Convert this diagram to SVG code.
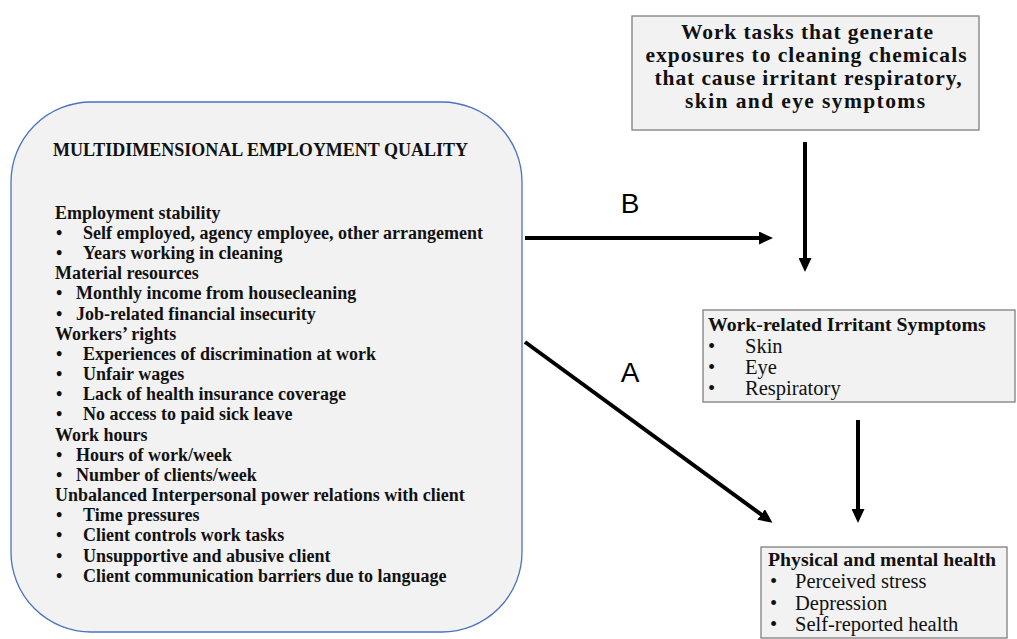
<svg xmlns="http://www.w3.org/2000/svg" width="1017" height="639" viewBox="0 0 1017 639">
<defs>
<marker id="ah" markerUnits="userSpaceOnUse" markerWidth="14" markerHeight="13" viewBox="0 0 14 13" refX="6" refY="6.5" orient="auto">
<path d="M0,0 L14,6.5 L0,13 z" fill="#000"/>
</marker>
<style>
.box{fill:#f2f2f2;stroke:#7f7f7f;stroke-width:1.3}
.big{fill:#f2f2f2;stroke:#4a72c0;stroke-width:1.3}
.lt{font-family:"Liberation Serif","DejaVu Serif",serif;font-weight:bold;font-size:18px;fill:#111}
.tt{font-family:"Liberation Serif","DejaVu Serif",serif;font-weight:bold;font-size:21.5px;fill:#111;text-anchor:middle}
.hd{font-family:"Liberation Serif","DejaVu Serif",serif;font-weight:bold;font-size:19.8px;fill:#111}
.it{font-family:"Liberation Serif","DejaVu Serif",serif;font-size:20.5px;fill:#111}
.lab{font-family:"Liberation Sans","Open Sans",sans-serif;font-size:28px;fill:#000;text-anchor:middle}
.con{stroke:#000;stroke-width:4;fill:none;marker-end:url(#ah)}
</style>
</defs>
<g id="employment-quality">
<rect class="big" x="11" y="102" width="511" height="530" rx="80" ry="80"/>
<text class="lt" x="53" y="156" font-size="16">MULTIDIMENSIONAL EMPLOYMENT QUALITY</text>
<text class="lt" x="55" y="219">Employment stability</text>
<text class="lt" x="56" y="239">•</text><text class="lt" x="83" y="239">Self employed, agency employee, other arrangement</text>
<text class="lt" x="56" y="259">•</text><text class="lt" x="83" y="259">Years working in cleaning</text>
<text class="lt" x="55" y="279">Material resources</text>
<text class="lt" x="56" y="299">•</text><text class="lt" x="76" y="299">Monthly income from housecleaning</text>
<text class="lt" x="56" y="320">•</text><text class="lt" x="76" y="320">Job-related financial insecurity</text>
<text class="lt" x="55" y="340">Workers’ rights</text>
<text class="lt" x="56" y="360">•</text><text class="lt" x="83" y="360">Experiences of discrimination at work</text>
<text class="lt" x="56" y="380">•</text><text class="lt" x="83" y="380">Unfair wages</text>
<text class="lt" x="56" y="400">•</text><text class="lt" x="83" y="400">Lack of health insurance coverage</text>
<text class="lt" x="56" y="420">•</text><text class="lt" x="83" y="420">No access to paid sick leave</text>
<text class="lt" x="55" y="441">Work hours</text>
<text class="lt" x="56" y="461">•</text><text class="lt" x="76" y="461">Hours of work/week</text>
<text class="lt" x="56" y="481">•</text><text class="lt" x="76" y="481">Number of clients/week</text>
<text class="lt" x="55" y="501">Unbalanced Interpersonal power relations with client</text>
<text class="lt" x="56" y="521">•</text><text class="lt" x="83" y="521">Time pressures</text>
<text class="lt" x="56" y="541">•</text><text class="lt" x="83" y="541">Client controls work tasks</text>
<text class="lt" x="56" y="562">•</text><text class="lt" x="83" y="562">Unsupportive and abusive client</text>
<text class="lt" x="56" y="582">•</text><text class="lt" x="83" y="582">Client communication barriers due to language</text>
</g>
<g id="work-tasks">
<rect class="box" x="632" y="16" width="347" height="114"/>
<text class="tt" x="807" y="39" textLength="252" lengthAdjust="spacing">Work tasks that generate</text>
<text class="tt" x="806" y="62" textLength="321" lengthAdjust="spacing">exposures to cleaning chemicals</text>
<text class="tt" x="808" y="85" textLength="307" lengthAdjust="spacing">that cause irritant respiratory,</text>
<text class="tt" x="805" y="108" textLength="240" lengthAdjust="spacing">skin and eye symptoms</text>
</g>
<g id="irritant-symptoms">
<rect class="box" x="703" y="310" width="312" height="92"/>
<text class="hd" x="708" y="331">Work-related Irritant Symptoms</text>
<text class="it" x="708" y="353">•</text><text class="it" x="745" y="353">Skin</text>
<text class="it" x="708" y="374">•</text><text class="it" x="745" y="374">Eye</text>
<text class="it" x="708" y="395">•</text><text class="it" x="745" y="395">Respiratory</text>
</g>
<g id="health">
<rect class="box" x="761" y="547" width="246" height="91"/>
<text class="hd" x="768" y="566">Physical and mental health</text>
<text class="it" x="770" y="588">•</text><text class="it" x="795" y="588">Perceived stress</text>
<text class="it" x="770" y="610">•</text><text class="it" x="795" y="610">Depression</text>
<text class="it" x="770" y="631">•</text><text class="it" x="795" y="631">Self-reported health</text>
</g>
<g id="connectors">
<line class="con" x1="525" y1="238" x2="765" y2="238"/>
<line class="con" x1="525" y1="342" x2="766" y2="518"/>
<line class="con" x1="805" y1="142" x2="805" y2="264"/>
<line class="con" x1="858" y1="420" x2="858" y2="515"/>
<text class="lab" x="630" y="213">B</text>
<text class="lab" x="630" y="382">A</text>
</g>
</svg>
